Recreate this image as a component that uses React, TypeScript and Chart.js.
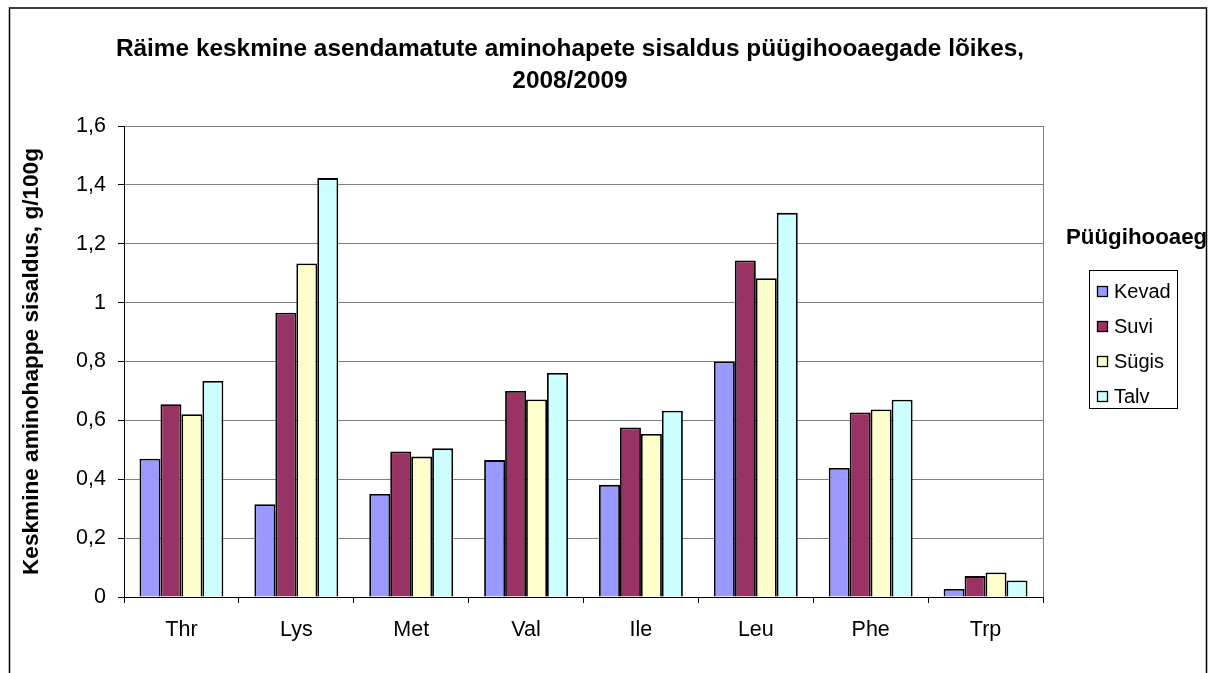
import React, { useEffect, useRef } from "react";
import { Chart, registerables } from "chart.js";

Chart.register(...registerables);

const categories = ["Thr", "Lys", "Met", "Val", "Ile", "Leu", "Phe", "Trp"];
const seriesNames = ["Kevad", "Suvi", "Sügis", "Talv"];
const kevad = [0.47, 0.315, 0.35, 0.465, 0.381, 0.8, 0.438, 0.027];
const suvi = [0.655, 0.966, 0.494, 0.7, 0.576, 1.143, 0.627, 0.071];
const sygis = [0.621, 1.133, 0.477, 0.671, 0.554, 1.083, 0.637, 0.083];
const talv = [0.734, 1.423, 0.505, 0.761, 0.633, 1.305, 0.67, 0.056];
const seriesColors = ["#9999FF", "#993366", "#FFFFCC", "#CCFFFF"];
const yTickValues = [0, 0.2, 0.4, 0.6, 0.8, 1, 1.2, 1.4, 1.6];
const titleLines = [
  "Räime keskmine asendamatute aminohapete sisaldus püügihooaegade lõikes,",
  "2008/2009",
];
const yAxisTitle = "Keskmine aminohappe sisaldus, g/100g";
const legendTitle = "Püügihooaeg";

const FONT = "'Liberation Sans', Arial, sans-serif";

const decorPlugin = {
  id: "decor",
  beforeDraw(chart: any) {
    const ctx = chart.ctx;
    ctx.save();
    ctx.fillStyle = "#ffffff";
    ctx.fillRect(0, 0, chart.width, chart.height);
    ctx.strokeStyle = "#000000";
    ctx.lineWidth = 1.5;
    ctx.strokeRect(9.5, 8, 1197, 720);
    ctx.restore();
  },
  beforeDatasetsDraw(chart: any) {
    const ctx = chart.ctx;
    const a = chart.chartArea;
    ctx.save();
    ctx.strokeStyle = "#808080";
    ctx.lineWidth = 1;
    ctx.beginPath();
    ctx.moveTo(Math.round(a.right) + 0.5, a.top);
    ctx.lineTo(Math.round(a.right) + 0.5, a.bottom);
    ctx.stroke();
    ctx.restore();
  },
  afterDraw(chart: any) {
    const ctx = chart.ctx;
    ctx.save();
    // title
    ctx.fillStyle = "#000000";
    ctx.font = `bold 24.4px ${FONT}`;
    ctx.textAlign = "center";
    ctx.textBaseline = "alphabetic";
    ctx.fillText(titleLines[0], 570, 56);
    ctx.fillText(titleLines[1], 570, 88);
    // legend title
    ctx.font = `bold 22.3px ${FONT}`;
    ctx.textAlign = "left";
    ctx.fillText(legendTitle, 1066, 244);
    // legend box
    ctx.strokeStyle = "#000000";
    ctx.lineWidth = 1;
    ctx.strokeRect(1089.5, 270.5, 88, 138);
    ctx.font = `20px ${FONT}`;
    ctx.textBaseline = "middle";
    chart.data.datasets.forEach((ds: any, i: number) => {
      const cy = 291 + i * 35;
      ctx.fillStyle = ds.backgroundColor;
      ctx.fillRect(1097, cy - 5, 11, 11);
      ctx.strokeStyle = "#000000";
      ctx.lineWidth = 1.3;
      ctx.strokeRect(1097.5, cy - 4.5, 10, 10);
      ctx.fillStyle = "#000000";
      ctx.fillText(ds.label, 1114, cy + 1);
    });
    ctx.restore();
  },
};

export default function App() {
  const ref = useRef<HTMLCanvasElement>(null);
  useEffect(() => {
    if (!ref.current) return;
    const seriesValues = [kevad, suvi, sygis, talv];
    const chart = new Chart(ref.current, {
      type: "bar",
      data: {
        labels: categories,
        datasets: seriesNames.map((name, i) => ({
          label: name,
          data: seriesValues[i],
          backgroundColor: seriesColors[i],
          borderColor: "#000000",
          borderWidth: 1.8,
          categoryPercentage: 0.73,
          barPercentage: 1.0,
        })),
      },
      options: {
        responsive: false,
        animation: false,
        devicePixelRatio: 1,
        layout: { padding: { top: 126, right: 1216 - 1043, bottom: 0, left: 0 } },
        plugins: {
          legend: { display: false },
          title: { display: false },
          tooltip: { enabled: false },
        },
        scales: {
          x: {
            afterFit: (s: any) => {
              s.height = 76;
            },
            grid: {
              offset: true,
              drawOnChartArea: false,
              tickLength: 6,
              tickColor: "#000000",
            },
            border: { color: "#000000", width: 1 },
            ticks: {
              color: "#000000",
              padding: 14,
              font: { family: FONT, size: 21.5 },
            },
          },
          y: {
            min: 0,
            max: 1.6,
            afterFit: (s: any) => {
              s.width = 124;
            },
            afterBuildTicks: (s: any) => {
              s.ticks = yTickValues.map((v) => ({ value: v }));
            },
            grid: {
              color: "#808080",
              tickColor: "#000000",
              tickLength: 6,
            },
            border: { color: "#000000", width: 1 },
            ticks: {
              color: "#000000",
              padding: 12,
              font: { family: FONT, size: 21.5 },
              callback: (v: any) => String(Math.round(Number(v) * 10) / 10).replace(".", ","),
            },
            title: {
              display: true,
              text: yAxisTitle,
              color: "#000000",
              font: { family: FONT, size: 22.6, weight: "bold" },
              padding: { top: 18, bottom: 0 },
            },
          },
        },
      },
      plugins: [decorPlugin],
    });
    return () => chart.destroy();
  }, []);
  return (
    <div style={{ position: "fixed", left: 0, top: 0, width: 1216, height: 673, background: "#fff" }}>
      <canvas ref={ref} width={1216} height={673} style={{ display: "block" }} />
    </div>
  );
}
